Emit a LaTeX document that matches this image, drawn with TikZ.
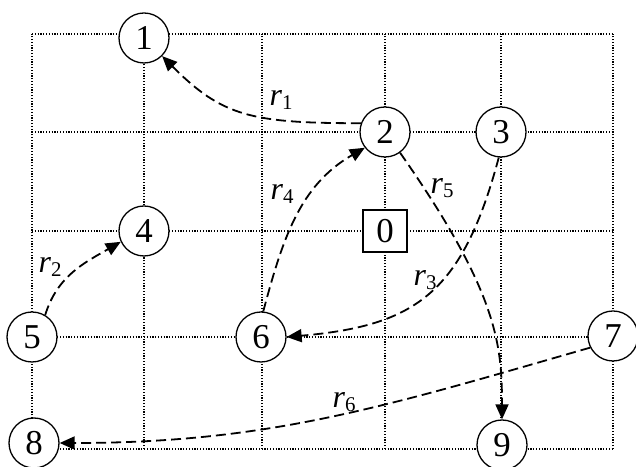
\documentclass[tikz,border=0pt]{standalone}
\usepackage{fontspec}
\setmainfont{Liberation Serif}
\usetikzlibrary{arrows.meta}
\newcommand{\rlab}[1]{\textit{r}\raisebox{-4bp}{\fontsize{21}{22}\selectfont #1}}
\begin{document}
\begin{tikzpicture}[x=1bp,y=1bp,
  gridline/.style={line width=1.2bp, dash pattern=on 1.2bp off 1.6bp},
  vertex/.style={circle, draw, line width=1.3bp, fill=white, minimum size=50bp, inner sep=0pt, font=\fontsize{35}{40}\selectfont},
  originbox/.style={rectangle, draw, line width=1.3bp, fill=white, minimum width=44bp, minimum height=42bp, inner sep=0pt, font=\fontsize{35}{40}\selectfont},
  route/.style={line width=1.8bp, dash pattern=on 10bp off 5bp, -{Triangle[length=15bp,width=13bp]}},
  rlabel/.style={inner sep=0pt, font=\fontsize{32}{36}\selectfont}]
\useasboundingbox (0,0) rectangle (636,467);
% grid
\foreach \gx in {32,144,262,385,501,613} \draw[gridline] (\gx,18) -- (\gx,433);
\foreach \gy in {18,130,236,335,433} \draw[gridline] (32,\gy) -- (613,\gy);
% nodes
\node[originbox] (n0) at (385,236) {0};
\node[vertex] (n1) at (144,429) {1};
\node[vertex] (n2) at (385,335) {2};
\node[vertex] (n3) at (501,335) {3};
\node[vertex] (n4) at (144,236) {4};
\node[vertex] (n5) at (32,130) {5};
\node[vertex] (n6) at (261,130) {6};
\node[vertex] (n7) at (613,131) {7};
\node[vertex] (n8) at (34,24) {8};
\node[vertex] (n9) at (502,22) {9};
% routes
\draw[route] (n2.160) to[out=180, in=-45, out distance=110bp, in distance=85bp] (n1.-45);
\draw[route] (n5.59) to[out=73, in=-150] (n4.205);
\draw[route] (n3.-95) to[out=-105, in=5, out distance=140bp, in distance=130bp] (n6.0);
\draw[route] (n6.85) to[out=75, in=-150] (n2.218);
\draw[route] (n2.-54) to[out=-55, in=90, out distance=170bp, in distance=75bp] (n9.north);
\draw[route] (n7.-153) to[out=196, in=0] (n8.east);
% labels
\node[rlabel] (l1) at (281,367) {\rlab{1}};
\node[rlabel] (l2) at (50,200) {\rlab{2}};
\node[rlabel] (l3) at (425,187) {\rlab{3}};
\node[rlabel] (l4) at (282,273) {\rlab{4}};
\node[rlabel] (l5) at (442,279) {\rlab{5}};
\node[rlabel] (l6) at (344,65) {\rlab{6}};
\end{tikzpicture}
\end{document}
